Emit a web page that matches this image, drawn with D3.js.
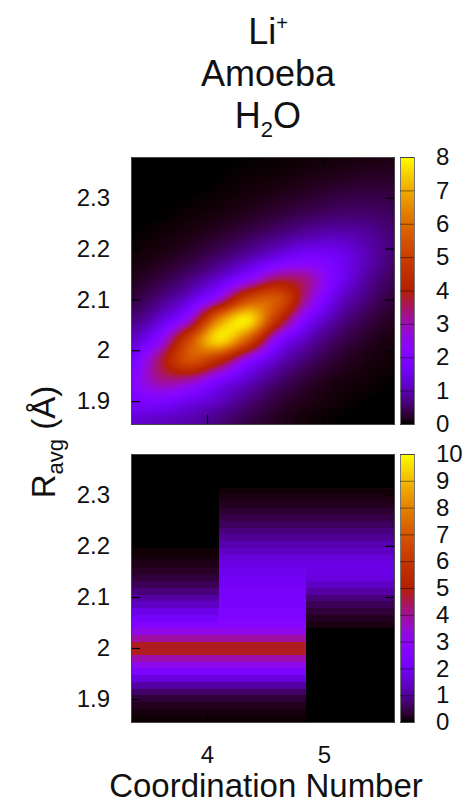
<!DOCTYPE html>
<html>
<head>
<meta charset="utf-8">
<script src="https://cdn.jsdelivr.net/npm/d3@7"></script>
<style>
  html, body { margin: 0; padding: 0; background: #fff; }
  svg text { font-family: "Liberation Sans", Arial, Helvetica, sans-serif; fill: #111; }
</style>
</head>
<body>
<svg id="chart" width="468" height="803"></svg>
<script>
// top panel: density on a grid of coordination number (x) and R_avg (y)
var cnNodes = [3.35, 3.6, 3.85, 4.1, 4.35, 4.6, 4.85, 5.1, 5.35, 5.6];
var rNodes = [1.86, 1.90, 1.94, 1.98, 2.02, 2.06, 2.10, 2.14, 2.18, 2.22, 2.26, 2.30, 2.34, 2.38];
// one row per rNodes entry, bottom row first
var density = [
    [1.21, 1.07, 0.95, 0.65, 0.35, 0.15, 0.04, 0, 0, 0],
    [1.81, 1.90, 1.50, 1.10, 0.65, 0.30, 0.12, 0.03, 0, 0],
    [2.13, 3.17, 2.99, 1.90, 1.15, 0.60, 0.27, 0.09, 0.03, 0],
    [1.71, 3.55, 5.40, 4.37, 2.30, 1.15, 0.58, 0.25, 0.09, 0.03],
    [1.10, 2.35, 5.24, 7.60, 5.60, 2.23, 1.06, 0.49, 0.20, 0.07],
    [0.63, 1.26, 2.75, 6.40, 7.70, 4.56, 1.93, 0.87, 0.40, 0.16],
    [0.31, 0.68, 1.32, 2.81, 5.24, 5.54, 3.13, 1.35, 0.67, 0.30],
    [0.13, 0.33, 0.67, 1.25, 2.27, 3.51, 3.23, 1.80, 0.90, 0.45],
    [0.04, 0.12, 0.29, 0.59, 1.00, 1.54, 1.94, 1.68, 1.06, 0.58],
    [0, 0.04, 0.11, 0.26, 0.48, 0.74, 1.01, 1.11, 0.92, 0.61],
    [0, 0, 0.03, 0.09, 0.19, 0.34, 0.50, 0.61, 0.61, 0.50],
    [0, 0, 0, 0.02, 0.07, 0.14, 0.23, 0.33, 0.37, 0.35],
    [0, 0, 0, 0, 0.02, 0.04, 0.09, 0.14, 0.19, 0.20],
    [0, 0, 0, 0, 0, 0.01, 0.03, 0.05, 0.07, 0.10]
];

// bottom panel: three coordination-number columns, R_avg bins from the bottom up
var cnEdges = [3.35, 4.1, 4.85, 5.6];
var rBinStart = 1.855;
var rBinWidth = 0.013125;
var histCol1 = [0.03, 0.08, 0.18, 0.35, 0.65, 1.1, 1.7, 2.4, 3.1, 3.8,
                4.8, 4.8, 3.9, 3.2, 2.6, 2.2, 1.8, 1.4, 1.1, 0.8,
                0.55, 0.38, 0.25, 0.15, 0.08, 0.04, 0, 0, 0, 0,
                0, 0, 0, 0, 0, 0, 0, 0, 0, 0];
var histCol2 = [0.03, 0.08, 0.18, 0.35, 0.65, 1.1, 1.7, 2.4, 3.1, 3.8,
                4.8, 4.8, 3.9, 3.2, 2.7, 2.5, 2.4, 2.3, 2.2, 2.2,
                2.1, 2.0, 1.9, 1.8, 1.6, 1.4, 1.2, 1.0, 0.8, 0.6,
                0.45, 0.3, 0.2, 0.1, 0.05, 0, 0, 0, 0, 0];
var histCol3 = [0, 0, 0, 0, 0, 0, 0, 0, 0, 0,
                0, 0, 0, 0, 0.1, 0.2, 0.35, 0.55, 0.8, 1.1,
                1.4, 1.7, 1.8, 1.8, 1.6, 1.4, 1.2, 1.0, 0.8, 0.6,
                0.45, 0.3, 0.2, 0.1, 0.05, 0, 0, 0, 0, 0];

var rTicks = [1.9, 2, 2.1, 2.2, 2.3];
var cnTicks = [4, 5];
var cbTicksTop = [0, 1, 2, 3, 4, 5, 6, 7, 8];
var cbTicksBottom = [0, 1, 2, 3, 4, 5, 6, 7, 8, 9, 10];

var left = 131, right = 394;
var top1 = 157, bottom1 = 424;
var top2 = 454, bottom2 = 722;
var cbLeft = 400, cbWidth = 14;

var svg = d3.select('#chart');

// gnuplot default palette (rgbformulae 7,5,15)
function palette(t) {
    t = Math.max(0, Math.min(1, t));
    var r = Math.sqrt(t), g = t * t * t, b = Math.max(0, Math.sin(2 * Math.PI * t));
    return d3.rgb(r * 255, g * 255, b * 255);
}

var x = d3.scaleLinear().domain([3.35, 5.6]).range([left, right]);
var yTop = d3.scaleLinear().domain([1.855, 2.38]).range([bottom1, top1]);
var yBot = d3.scaleLinear().domain([1.855, 2.38]).range([bottom2, top2]);
var cTop = d3.scaleSequential(palette).domain([0, 8]);
var cBot = d3.scaleSequential(palette).domain([0, 10]);

// ---- top panel, smooth map (bicubic between grid nodes) ----
function catmull(p0, p1, p2, p3, t) {
    return 0.5 * (2 * p1 + (p2 - p0) * t + (2 * p0 - 5 * p1 + 4 * p2 - p3) * t * t +
        (3 * p1 - p0 - 3 * p2 + p3) * t * t * t);
}
var cnIdx = d3.scaleLinear().domain([cnNodes[0], cnNodes[cnNodes.length - 1]]).range([0, cnNodes.length - 1]).clamp(true);
var rIdx = d3.scaleLinear().domain([rNodes[0], rNodes[rNodes.length - 1]]).range([0, rNodes.length - 1]).clamp(true);
function node(j, i) {
    j = Math.max(0, Math.min(rNodes.length - 1, j));
    i = Math.max(0, Math.min(cnNodes.length - 1, i));
    return density[j][i];
}
function sample(fx, fy) {
    var ix = Math.min(Math.floor(fx), cnNodes.length - 2), tx = fx - ix;
    var iy = Math.min(Math.floor(fy), rNodes.length - 2), ty = fy - iy;
    var rows = [];
    for (var k = -1; k <= 2; k++) {
        rows.push(catmull(node(iy + k, ix - 1), node(iy + k, ix), node(iy + k, ix + 1), node(iy + k, ix + 2), tx));
    }
    return Math.max(0, catmull(rows[0], rows[1], rows[2], rows[3], ty));
}

var w = Math.round(right - left), h = Math.round(bottom1 - top1);
var canvas = document.createElement('canvas');
canvas.width = w;
canvas.height = h;
var ctx = canvas.getContext('2d');
var img = ctx.createImageData(w, h);
for (var py = 0; py < h; py++) {
    var fy = rIdx(yTop.invert(top1 + py + 0.5));
    for (var px = 0; px < w; px++) {
        var fx = cnIdx(x.invert(left + px + 0.5));
        var c = cTop(sample(fx, fy));
        var o = (py * w + px) * 4;
        img.data[o] = c.r; img.data[o + 1] = c.g; img.data[o + 2] = c.b; img.data[o + 3] = 255;
    }
}
ctx.putImageData(img, 0, 0);
svg.append('image')
    .attr('x', left).attr('y', top1)
    .attr('width', w).attr('height', h)
    .attr('preserveAspectRatio', 'none')
    .attr('href', canvas.toDataURL());

// ---- bottom panel, binned columns ----
svg.append('rect')
    .attr('x', left).attr('y', top2)
    .attr('width', right - left).attr('height', bottom2 - top2)
    .attr('fill', '#000');

var cols = [histCol1, histCol2, histCol3];
var cells = [];
cols.forEach(function (col, ci) {
    col.forEach(function (v, bi) {
        cells.push({x0: cnEdges[ci], x1: cnEdges[ci + 1],
                    r0: rBinStart + bi * rBinWidth, r1: rBinStart + (bi + 1) * rBinWidth, v: v});
    });
});
svg.append('g')
    .attr('shape-rendering', 'crispEdges')
    .selectAll('rect')
    .data(cells)
    .enter()
    .append('rect')
    .attr('x', function (d) { return x(d.x0); })
    .attr('width', function (d) { return x(d.x1) - x(d.x0); })
    .attr('y', function (d) { return yBot(d.r1); })
    .attr('height', function (d) { return yBot(d.r0) - yBot(d.r1); })
    .attr('fill', function (d) { return cBot(d.v); });

// ---- axes (ticks inward on all four sides) ----
function panelAxes(y, yT, yB, showX) {
    svg.append('g').attr('class', 'y axis')
        .attr('transform', 'translate(' + left + ',0)')
        .call(d3.axisLeft(y).tickValues(rTicks).tickSize(-9).tickPadding(21)
            .tickFormat(function (d) { return String(d); }));
    svg.append('g').attr('transform', 'translate(' + right + ',0)')
        .call(d3.axisRight(y).tickValues(rTicks).tickSize(-9).tickFormat(''));
    svg.append('g').attr('transform', 'translate(0,' + yT + ')')
        .call(d3.axisTop(x).tickValues(cnTicks).tickSize(-9).tickFormat(''));
    svg.append('g').attr('class', 'x axis').attr('transform', 'translate(0,' + yB + ')')
        .call(d3.axisBottom(x).tickValues(cnTicks).tickSize(-9).tickPadding(24)
            .tickFormat(showX ? function (d) { return String(d); } : ''));
    svg.append('rect')
        .attr('x', left).attr('y', yT)
        .attr('width', right - left).attr('height', yB - yT)
        .attr('fill', 'none').attr('stroke', '#444').attr('stroke-width', 1)
        .attr('shape-rendering', 'crispEdges');
}
panelAxes(yTop, top1, bottom1, false);
panelAxes(yBot, top2, bottom2, true);

svg.selectAll('.domain').remove();
svg.selectAll('.tick line').attr('stroke', '#000').attr('stroke-width', 1.2);
svg.selectAll('.tick text').attr('font-size', 24).attr('fill', '#111')
    .attr('font-family', '"Liberation Sans", Arial, Helvetica, sans-serif');

// ---- colour boxes ----
var grad = svg.append('defs').append('linearGradient')
    .attr('id', 'pal').attr('x1', 0).attr('y1', 1).attr('x2', 0).attr('y2', 0);
d3.range(0, 1.0001, 0.025).forEach(function (t) {
    grad.append('stop').attr('offset', t).attr('stop-color', palette(t));
});

function colorBox(scale, ticks, yT, yB) {
    svg.append('rect')
        .attr('x', cbLeft).attr('y', yT)
        .attr('width', cbWidth).attr('height', yB - yT)
        .attr('fill', 'url(#pal)')
        .attr('stroke', '#777').attr('stroke-width', 1)
        .attr('shape-rendering', 'crispEdges');
    var cs = d3.scaleLinear().domain(scale.domain()).range([yB, yT]);
    var g = svg.append('g').attr('transform', 'translate(' + (cbLeft + cbWidth) + ',0)')
        .call(d3.axisRight(cs).tickValues(ticks).tickSize(-cbWidth).tickPadding(22)
            .tickFormat(function (d) { return String(d); }));
    g.select('.domain').remove();
    g.selectAll('.tick line').attr('stroke', '#000').attr('stroke-opacity', 0.45);
    g.selectAll('.tick text').attr('font-size', 24).attr('fill', '#111')
        .attr('font-family', '"Liberation Sans", Arial, Helvetica, sans-serif');
}
colorBox(cTop, cbTicksTop, top1, bottom1);
colorBox(cBot, cbTicksBottom, top2, bottom2);

// ---- labels ----
var title = svg.append('g').attr('text-anchor', 'middle').attr('font-size', 36);
var t1 = title.append('text').attr('x', 268).attr('y', 44);
t1.append('tspan').text('Li');
t1.append('tspan').attr('font-size', 20).attr('dy', -14).text('+');
title.append('text').attr('x', 268).attr('y', 86).text('Amoeba');
var t3 = title.append('text').attr('x', 268).attr('y', 128);
t3.append('tspan').text('H');
t3.append('tspan').attr('font-size', 22).attr('dy', 9).text('2');
t3.append('tspan').attr('dy', -9).text('O');

var yl = svg.append('text')
    .attr('transform', 'translate(55,442) rotate(-90)')
    .attr('text-anchor', 'middle').attr('font-size', 33);
yl.append('tspan').text('R');
yl.append('tspan').attr('font-size', 22).attr('dy', 8).text('avg');
yl.append('tspan').attr('dy', -8).text(' (\u00c5)');

svg.append('text')
    .attr('x', 266).attr('y', 797)
    .attr('text-anchor', 'middle').attr('font-size', 33)
    .text('Coordination Number');
</script>
</body>
</html>
